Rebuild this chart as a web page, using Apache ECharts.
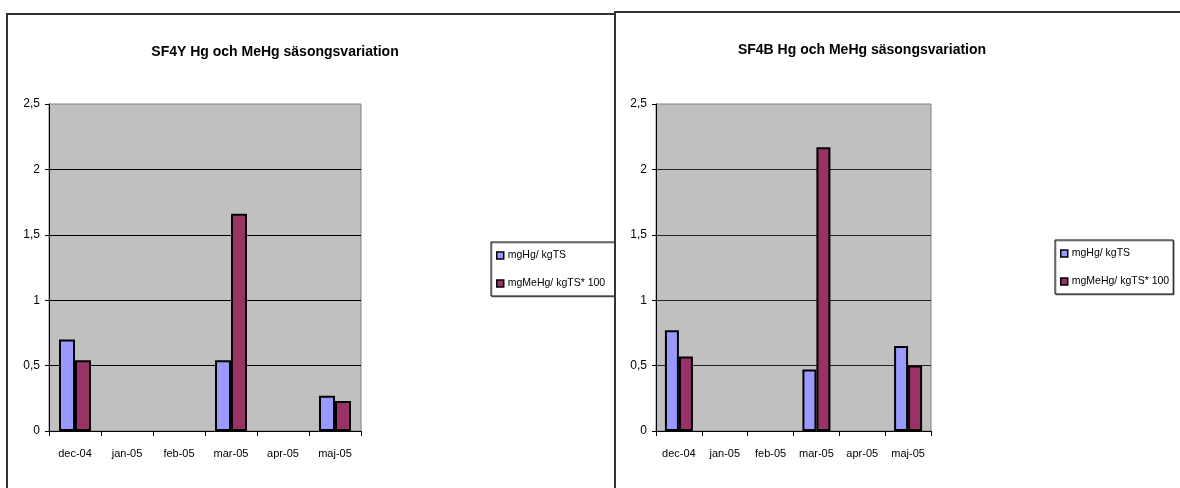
<!DOCTYPE html>
<html>
<head>
<meta charset="utf-8">
<script src="https://cdn.jsdelivr.net/npm/echarts@6/dist/echarts.min.js"></script>
<style>
  html, body { margin: 0; padding: 0; background: #fff; width: 1180px; height: 488px; overflow: hidden; }
  .panel { position: absolute; background: #fff; border: 2px solid #333; box-sizing: border-box; }
  #left  { left: 6px;   top: 13px; width: 660px; height: 490px; }
  #right { left: 614px; top: 11px; width: 580px; height: 490px; }
</style>
</head>
<body>
<div id="left" class="panel"></div>
<div id="right" class="panel"></div>
<script>
// Sampling months
const months = ['dec-04', 'jan-05', 'feb-05', 'mar-05', 'apr-05', 'maj-05'];
const seriesNames = ['mgHg/ kgTS', 'mgMeHg/ kgTS* 100'];

// SF4Y
const sf4yTitle = 'SF4Y Hg och MeHg säsongsvariation';
const sf4yHg   = [0.70, null, null, 0.54, null, 0.27];
const sf4yMeHg = [0.54, null, null, 1.66, null, 0.23];

// SF4B
const sf4bTitle = 'SF4B Hg och MeHg säsongsvariation';
const sf4bHg   = [0.77, null, null, 0.47, null, 0.65];
const sf4bMeHg = [0.57, null, null, 2.17, null, 0.50];

// Value axis ticks (Swedish decimal comma)
const yTickValues = [0, 0.5, 1, 1.5, 2, 2.5];
const yTickLabels = ['0', '0,5', '1', '1,5', '2', '2,5'];

const FONT = '"Liberation Sans", Arial, sans-serif';
const colors = ['#9999FF', '#993366'];

function buildOption(title, hg, mehg, layout) {
  return {
    animation: false,
    textStyle: { fontFamily: FONT },
    title: {
      text: title,
      left: layout.titleX, top: 25, textAlign: 'center',
      textStyle: { fontFamily: FONT, fontSize: 14, fontWeight: 'bold', color: '#000' }
    },
    legend: {
      orient: 'vertical',
      left: layout.legendLeft, top: 227,
      padding: [8, layout.legendPadRight, 7, 5],
      itemGap: 17,
      itemWidth: 7, itemHeight: 7,
      icon: 'rect',
      borderColor: '#000', borderWidth: 1,
      backgroundColor: '#fff',
      shadowColor: 'rgba(0,0,0,0.35)', shadowOffsetX: 1, shadowOffsetY: 1, shadowBlur: 0,
      itemStyle: { borderColor: '#000', borderWidth: 1.5 },
      textStyle: { fontFamily: FONT, fontSize: 10.5, color: '#000', padding: [0, 0, 0, -1] },
      data: seriesNames
    },
    grid: {
      left: layout.gridLeft, top: layout.gridTop, width: layout.gridWidth, height: 327,
      show: true, backgroundColor: '#C0C0C0', borderColor: '#808080', borderWidth: 1
    },
    xAxis: {
      type: 'category',
      data: months,
      boundaryGap: true,
      axisLine: { lineStyle: { color: '#000', width: 1 } },
      axisTick: { show: true, interval: 0, length: 5, lineStyle: { color: '#000' } },
      axisLabel: { interval: 0, margin: 17, fontSize: 11, color: '#000', fontFamily: FONT },
      splitLine: { show: false }
    },
    yAxis: {
      type: 'value',
      min: 0, max: 2.5, interval: 0.5,
      axisLine: { show: true, lineStyle: { color: '#000', width: 1 } },
      axisTick: { show: true, length: 4, lineStyle: { color: '#000' } },
      axisLabel: {
        fontSize: 12, color: '#000', margin: 9, fontFamily: FONT,
        formatter: v => yTickLabels[yTickValues.findIndex(t => Math.abs(t - v) < 1e-9)]
      },
      splitLine: { show: true, showMinLine: false, showMaxLine: false, lineStyle: { color: layout.splitColor, width: 1 } }
    },
    series: [
      {
        name: seriesNames[0], type: 'bar', data: hg,
        barWidth: layout.barWidth, barGap: '0%',
        itemStyle: { color: colors[0], borderColor: '#000', borderWidth: 2 }
      },
      {
        name: seriesNames[1], type: 'bar', data: mehg,
        barWidth: layout.barWidth, barGap: '0%',
        itemStyle: { color: colors[1], borderColor: '#000', borderWidth: 2 }
      }
    ]
  };
}

// SF4Y panel sits underneath; its legend box runs on under the SF4B panel
const leftChart = echarts.init(document.getElementById('left'), null, { renderer: 'canvas' });
leftChart.setOption(buildOption(sf4yTitle, sf4yHg, sf4yMeHg, {
  titleX: 262, legendLeft: 483, legendPadRight: 24, gridLeft: 41, gridTop: 89, gridWidth: 312,
  barWidth: 16, splitColor: '#000'
}));

const rightChart = echarts.init(document.getElementById('right'), null, { renderer: 'canvas' });
rightChart.setOption(buildOption(sf4bTitle, sf4bHg, sf4bMeHg, {
  titleX: 241, legendLeft: 439, legendPadRight: 4, gridLeft: 40, gridTop: 91, gridWidth: 275,
  barWidth: 14, splitColor: '#222'
}));
</script>
</body>
</html>
